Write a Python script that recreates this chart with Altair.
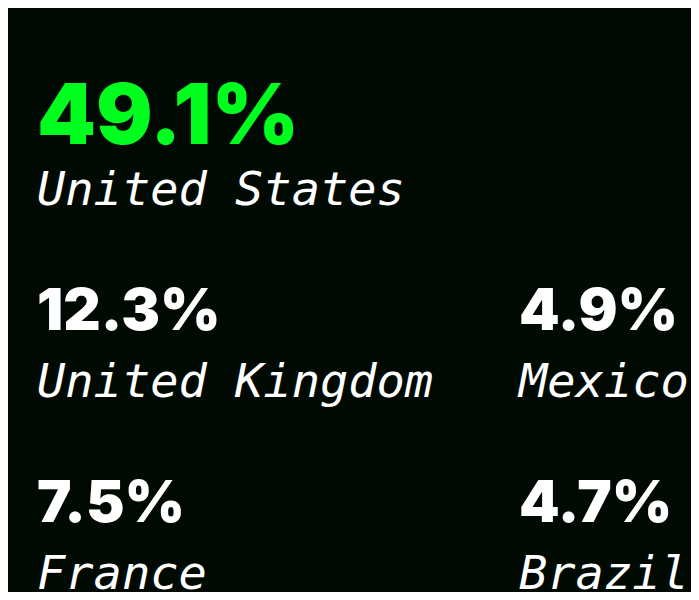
import altair as alt
import pandas as pd

countries = ["United States", "United Kingdom", "France", "Mexico", "Brazil"]
shares = [49.1, 12.3, 7.5, 4.9, 4.7]
grid_col = [0, 0, 0, 1, 1]
grid_row = [0, 1, 2, 1, 2]

df = pd.DataFrame({
    "country": countries,
    "share": shares,
    "col": grid_col,
    "row": grid_row,
})

BG = "#000a02"
GREEN = "#00ff1f"

x_enc = alt.X("col:Q", scale=alt.Scale(domain=[0, 1], range=[29, 511]), axis=None)
y_enc = alt.Y("row:Q", scale=alt.Scale(domain=[0, 2], range=[197, 581]), axis=None)

base = alt.Chart(df).encode(x=x_enc, y=y_enc).transform_calculate(
    label="format(datum.share, '.1f') + '%'"
)

top_value = base.transform_filter("datum.row == 0").mark_text(
    align="left", baseline="alphabetic", font="Inter", fontWeight=900,
    fontSize=84, dy=-61, color=GREEN
).encode(text="label:N")

other_values = base.transform_filter("datum.row > 0").mark_text(
    align="left", baseline="alphabetic", font="Inter", fontWeight=900,
    fontSize=58, dy=-67, color="#ffffff"
).encode(text="label:N")

names = base.mark_text(
    align="left", baseline="alphabetic", font="DejaVu Sans Mono",
    fontStyle="italic", fontSize=47, color="#ffffff"
).encode(text="country:N")

chart = alt.layer(top_value, other_values, names).properties(
    width=683, height=584, background=BG, padding=0,
    autosize=alt.AutoSizeParams(type="none")
).configure_view(stroke=None)

chart.save("out.html", embed_options={"renderer": "svg", "actions": False})
